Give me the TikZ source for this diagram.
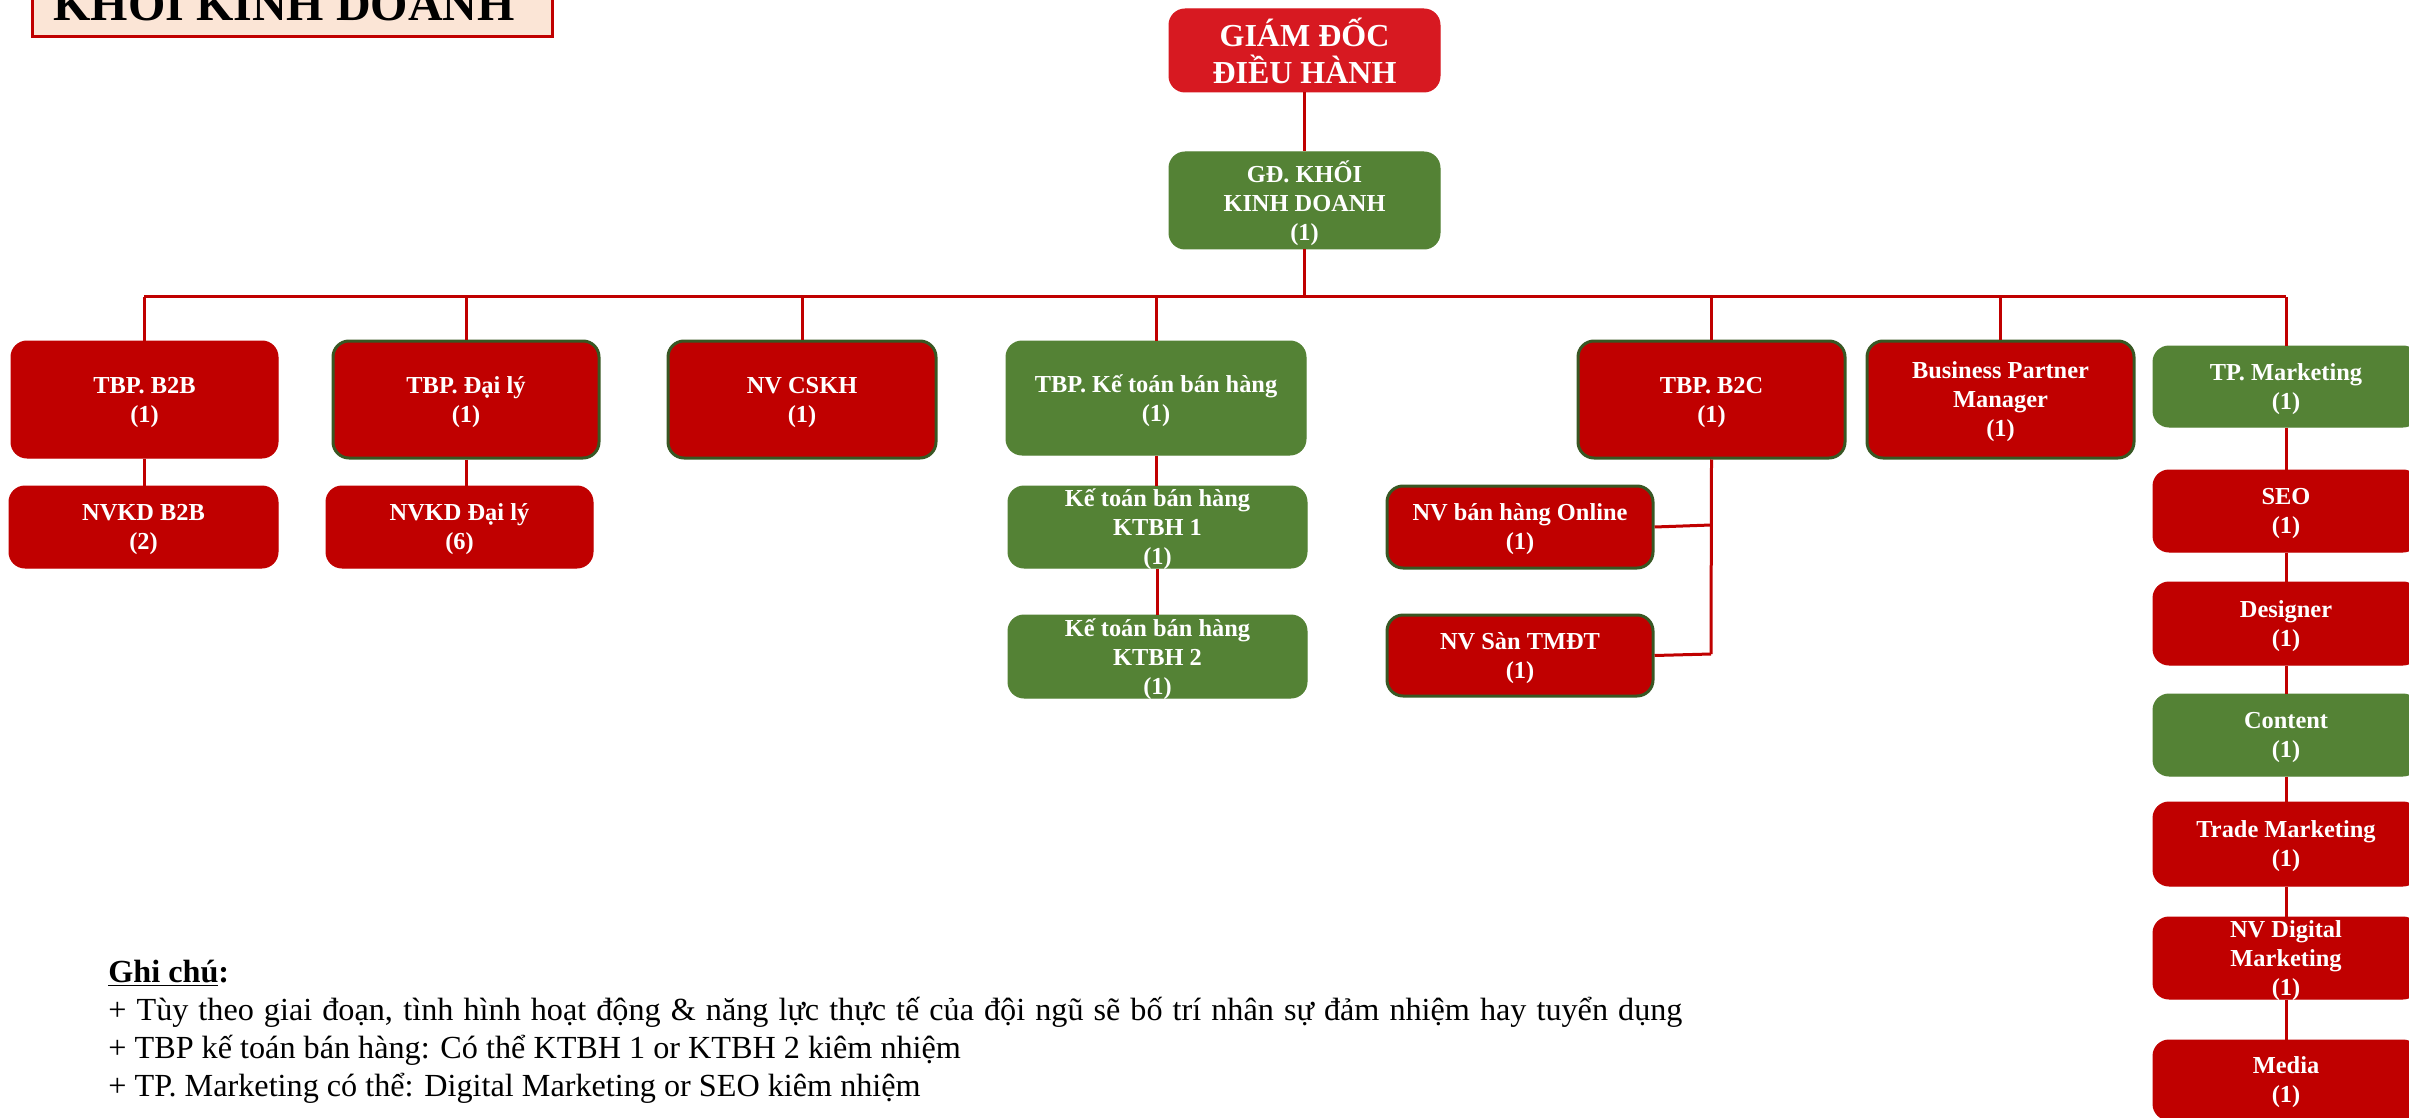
\documentclass[tikz,border=0pt]{standalone}
\usepackage{fontspec}
\setmainfont{Liberation Serif}
\definecolor{cred}{RGB}{192,0,0}
\definecolor{cceo}{RGB}{215,25,33}
\definecolor{cgreen}{RGB}{84,130,53}
\definecolor{cgborder}{RGB}{56,87,35}
\definecolor{cline}{RGB}{192,0,0}
\definecolor{cpeach}{RGB}{251,229,214}
\begin{document}
\begin{tikzpicture}[x=0.5pt,y=-0.5pt,
  sz/.style 2 args={minimum width={#1*0.5pt}, minimum height={#2*0.5pt}},
  box/.style={rounded corners=8pt, inner sep=0pt, align=center, text=white,
    font=\fontsize{12.2}{14.5}\selectfont\bfseries, text depth=-4pt},
  three/.style={text depth=-1.2pt},
  redbox/.style={box, fill=cred, draw=cred, line width=0.5pt},
  redgbox/.style={box, fill=cred, draw=cgborder, line width=1.5pt},
  greenbox/.style={box, fill=cgreen, draw=cgreen, line width=0.5pt},
  ceobox/.style={rounded corners=8pt, inner sep=0pt, align=center, text=white,
    fill=cceo, draw=cceo, line width=0.5pt,
    font=\fontsize{16}{18.5}\selectfont\bfseries},
  titleframe/.style={fill=cpeach, draw=cred, line width=1.5pt, inner sep=0pt},
  link/.style={draw=cline, line width=1.5pt},
  note/.style={inner sep=0pt, anchor=base west, font=\fontsize{16.1}{19}\selectfont}
]
\useasboundingbox (0,0) rectangle (2409,1118);

% title
\node[titleframe, sz={520}{80}] (titlebox) at (292,-3) {};
\node[anchor=base, inner sep=0pt, font=\fontsize{24}{28}\selectfont\bfseries] (titletext) at (284,21) {KHỐI KINH DOANH};

% top
\node[ceobox, sz={271}{83}] (ceo) at (1304.5,50.5) {GIÁM ĐỐC\\ĐIỀU HÀNH};
\node[greenbox, three, sz={271}{97}] (gd) at (1304.5,200.5) {GĐ. KHỐI\\KINH DOANH\\(1)};

% row 1
\node[redbox, sz={267}{117}] (b2b) at (144.5,399.5) {TBP. B2B\\(1)};
\node[redgbox, sz={266}{117}] (daily) at (466,399.5) {TBP. Đại lý\\(1)};
\node[redgbox, sz={268}{117}] (cskh) at (802,399.5) {NV CSKH\\(1)};
\node[greenbox, sz={300}{114}] (ktbh) at (1156,398) {TBP. Kế toán bán hàng\\(1)};
\node[redgbox, sz={267}{117}] (b2c) at (1711.5,399.5) {TBP. B2C\\(1)};
\node[redgbox, three, sz={267}{117}] (bpm) at (2000.5,399.5) {Business Partner\\Manager\\(1)};
\node[greenbox, sz={266}{81}] (tpm) at (2286,386.5) {TP. Marketing\\(1)};

% row 2 and below
\node[redbox, sz={269}{82}] (nvb2b) at (143.5,527) {NVKD B2B\\(2)};
\node[redbox, sz={267}{82}] (nvdaily) at (459.5,527) {NVKD Đại lý\\(6)};
\node[greenbox, three, sz={299}{82}] (kt1) at (1157.5,527) {Kế toán bán hàng\\KTBH 1\\(1)};
\node[greenbox, three, sz={299}{83}] (kt2) at (1157.5,656.5) {Kế toán bán hàng\\KTBH 2\\(1)};
\node[redgbox, sz={266}{82}] (online) at (1520,527) {NV bán hàng Online\\(1)};
\node[redgbox, sz={266}{81}] (tmdt) at (1520,655.5) {NV Sàn TMĐT\\(1)};

% marketing column
\node[redbox, sz={266}{82}] (seo) at (2286,511) {SEO\\(1)};
\node[redbox, sz={266}{83}] (designer) at (2286,623.5) {Designer\\(1)};
\node[greenbox, sz={266}{82}] (content) at (2286,735) {Content\\(1)};
\node[redbox, sz={266}{84}] (trade) at (2286,844) {Trade Marketing\\(1)};
\node[redbox, three, sz={266}{82}] (digital) at (2286,958) {NV Digital\\Marketing\\(1)};
\node[redbox, sz={266}{80}] (media) at (2286,1080) {Media\\(1)};

% connectors
\coordinate (busL) at (144,297);
\coordinate (busR) at (2286,297);
\draw[link] (ceo.south) -- (gd.north);
\draw[link] (gd.south) -- (gd.south |- busL);
\draw[link] (busL) -- (busR);
\foreach \n in {b2b,daily,cskh,ktbh,b2c,bpm,tpm}
  \draw[link] (\n.north) -- (\n.north |- busL);
\draw[link] (b2b.south) -- (b2b.south |- nvb2b.north);
\draw[link] (daily.south) -- (daily.south |- nvdaily.north);
\draw[link] (ktbh.south) -- (ktbh.south |- kt1.north);
\draw[link] (kt1.south) -- (kt1.south |- kt2.north);
\coordinate (j1) at (1711,525);
\coordinate (j2) at (1711,654);
\draw[link] (b2c.south) -- (j2);
\draw[link] (online.east) -- (j1);
\draw[link] (tmdt.east) -- (j2);
\draw[link] (tpm.south) -- (seo.north);
\draw[link] (seo.south) -- (designer.north);
\draw[link] (designer.south) -- (content.north);
\draw[link] (content.south) -- (trade.north);
\draw[link] (trade.south) -- (digital.north);
\draw[link] (digital.south) -- (media.north);

% notes
\node[note] (n0) at (108,982) {\textbf{\underline{Ghi chú}:}};
\node[note] (n1) at (108,1020) {\makebox[787pt][s]{+ Tùy theo giai đoạn, tình hình hoạt động \& năng lực thực tế của đội ngũ sẽ bố trí nhân sự đảm nhiệm hay tuyển dụng}};
\node[note] (n2) at (108,1058) {+ TBP kế toán bán hàng: Có thể KTBH 1 or KTBH 2 kiêm nhiệm};
\node[note] (n3) at (108,1096) {+ TP. Marketing có thể: Digital Marketing or SEO kiêm nhiệm};
\end{tikzpicture}
\end{document}
